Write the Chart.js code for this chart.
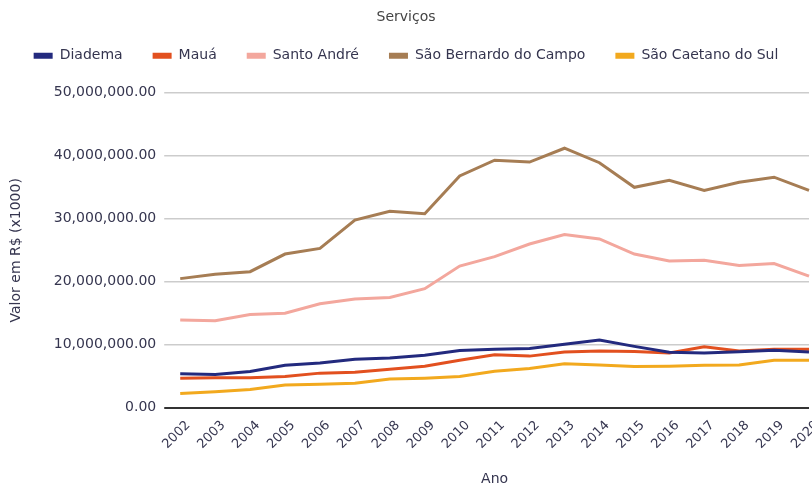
<!DOCTYPE html>
<html>
<head>
<meta charset="utf-8">
<script src="https://cdn.jsdelivr.net/npm/chart.js@4"></script>
<style>
  body { margin: 0; background: #fff; }
  #wrap { width: 812px; height: 484px; }
</style>
</head>
<body>
<div id="wrap"><canvas id="myChart"></canvas></div>
<script>
var anos = ['2002','2003','2004','2005','2006','2007','2008','2009','2010','2011','2012','2013','2014','2015','2016','2017','2018','2019','2020'];

var diadema = [5.4, 5.3, 5.75, 6.75, 7.1, 7.7, 7.9, 8.35, 9.1, 9.3, 9.4, 10.1, 10.75, 9.75, 8.8, 8.7, 8.9, 9.15, 8.85];
var maua = [4.7, 4.75, 4.75, 4.95, 5.5, 5.65, 6.1, 6.6, 7.55, 8.4, 8.2, 8.85, 9.0, 8.95, 8.7, 9.7, 9.0, 9.3, 9.3];
var santoAndre = [13.95, 13.8, 14.8, 15.0, 16.5, 17.25, 17.5, 18.9, 22.5, 24.0, 26.0, 27.5, 26.8, 24.4, 23.3, 23.4, 22.6, 22.9, 20.9];
var saoBernardo = [20.5, 21.2, 21.6, 24.4, 25.3, 29.8, 31.2, 30.8, 36.8, 39.3, 39.0, 41.2, 38.9, 35.0, 36.1, 34.5, 35.8, 36.6, 34.5];
var saoCaetano = [2.25, 2.55, 2.9, 3.6, 3.75, 3.9, 4.55, 4.7, 4.95, 5.8, 6.25, 7.0, 6.8, 6.55, 6.6, 6.75, 6.8, 7.55, 7.55];

// valores lidos em milhoes
function mi(arr){ return arr.map(function(v){ return v * 1000000; }); }

var corTexto = '#35354f';
Chart.defaults.font.family = 'DejaVu Sans';
Chart.defaults.font.size = 14;
Chart.defaults.color = corTexto;

function serie(nome, valores, cor){
  return {
    label: nome,
    data: mi(valores),
    borderColor: cor,
    backgroundColor: cor,
    borderWidth: 3,
    pointRadius: 0,
    tension: 0
  };
}

// espaco extra embaixo da legenda
var legendaMargem = {
  id: 'legendaMargem',
  beforeInit: function(chart){
    var fit = chart.legend.fit;
    chart.legend.fit = function(){
      fit.bind(chart.legend)();
      this.height += 20;
    };
  }
};

var ctx = document.getElementById('myChart').getContext('2d');
var chart = new Chart(ctx, {
  type: 'line',
  data: {
    labels: anos,
    datasets: [
      serie('Diadema', diadema, '#232a7e'),
      serie('Mauá', maua, '#e2501f'),
      serie('Santo André', santoAndre, '#f3a79d'),
      serie('São Bernardo do Campo', saoBernardo, '#a67d54'),
      serie('São Caetano do Sul', saoCaetano, '#f2a91e')
    ]
  },
  plugins: [legendaMargem],
  options: {
    responsive: true,
    maintainAspectRatio: false,
    animation: false,
    layout: { padding: { left: 0, right: 0, top: 2, bottom: 0 } },
    plugins: {
      title: {
        display: true,
        text: 'Serviços',
        color: '#444',
        font: { size: 14, weight: 'normal' },
        padding: { top: 7, bottom: -7 }
      },
      legend: {
        labels: {
          boxWidth: 19,
          boxHeight: 6,
          padding: 30,
          font: { size: 14 },
          color: corTexto,
          generateLabels: function(chart){
            var itens = Chart.defaults.plugins.legend.labels.generateLabels(chart);
            itens.forEach(function(it){ it.lineWidth = 0; });
            return itens;
          }
        }
      },
      tooltip: { enabled: false }
    },
    scales: {
      x: {
        grid: { display: false, drawTicks: false },
        border: { display: false },
        afterFit: function(s){ s.paddingRight = 3; },
        ticks: {
          autoSkip: false,
          maxRotation: 45,
          minRotation: 45,
          padding: 10,
          labelOffset: 8,
          font: { size: 13 }
        },
        title: {
          display: true,
          text: 'Ano',
          font: { size: 14 },
          padding: { top: 9, bottom: -4 }
        }
      },
      y: {
        min: 0,
        max: 50000000,
        border: { display: false },
        grid: {
          tickLength: 16,
          color: function(c){ return c.tick && c.tick.value === 0 ? '#333' : '#ccc'; },
          lineWidth: function(c){ return c.tick && c.tick.value === 0 ? 2 : 1.5; }
        },
        ticks: {
          stepSize: 10000000,
          padding: 8,
          font: { size: 14 },
          callback: function(v){
            return Number(v).toLocaleString('en-US', { minimumFractionDigits: 2, maximumFractionDigits: 2 });
          }
        },
        title: {
          display: true,
          text: 'Valor em R$ (x1000)',
          font: { size: 14 },
          padding: { top: 8, bottom: 21 }
        }
      }
    }
  }
});
</script>
</body>
</html>
